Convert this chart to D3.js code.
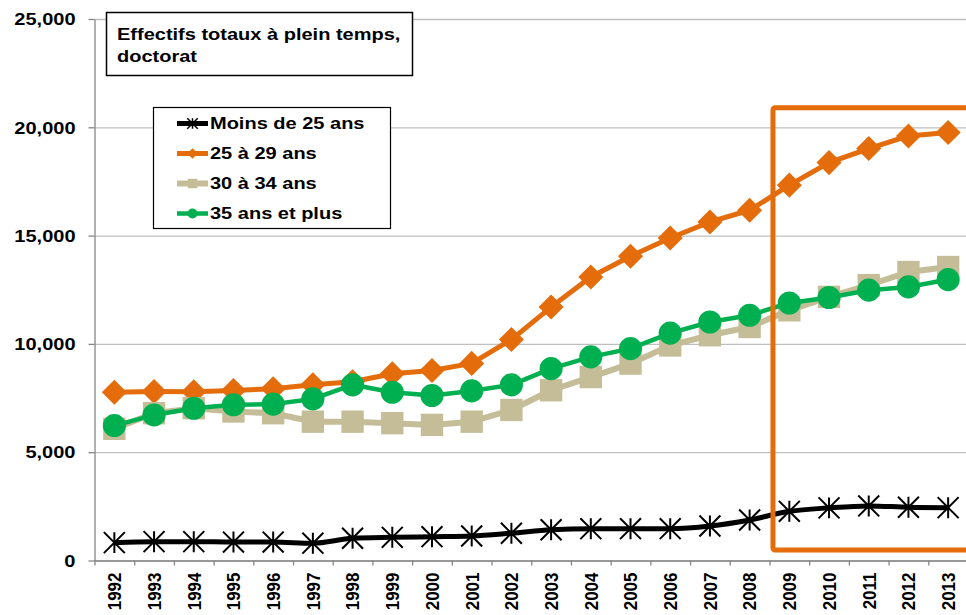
<!DOCTYPE html>
<html>
<head>
<meta charset="utf-8">
<script src="https://cdn.jsdelivr.net/npm/d3@7"></script>
<style>
  body { margin: 0; background: #fff; }
  svg { display: block; font-family: "Liberation Sans", Arial, sans-serif; font-weight: bold; }
</style>
</head>
<body>
<svg id="chart" width="966" height="615"></svg>
<script>
'use strict';

var years = ['1992','1993','1994','1995','1996','1997','1998','1999','2000','2001','2002',
             '2003','2004','2005','2006','2007','2008','2009','2010','2011','2012','2013'];
var moins25 = [825, 870, 870, 850, 850, 800, 1025, 1070, 1100, 1130, 1260,
               1420, 1470, 1470, 1470, 1590, 1870, 2270, 2430, 2520, 2460, 2440];
var de25a29 = [7770, 7800, 7790, 7850, 7930, 8110, 8250, 8620, 8770, 9100, 10200,
               11700, 13090, 14050, 14890, 15630, 16170, 17330, 18370, 19020, 19600, 19760];
var de30a34 = [6080, 6800, 7030, 6880, 6800, 6410, 6410, 6340, 6260, 6410, 6950,
               7860, 8470, 9090, 9930, 10400, 10780, 11550, 12170, 12710, 13320, 13550];
var plus35 = [6230, 6720, 7030, 7190, 7220, 7460, 8110, 7770, 7620, 7830, 8110,
              8860, 9400, 9780, 10500, 11010, 11320, 11890, 12140, 12480, 12630, 12970];
var seriesNames = ['Moins de 25 ans', '25 à 29 ans', '30 à 34 ans', '35 ans et plus'];
var yTicks = [0, 5000, 10000, 15000, 20000, 25000];
var titleLines = ['Effectifs totaux à plein temps,', 'doctorat'];
// highlighted period (2009-2013)
var zoneStart = '2009';

var sx = 1.25; // the reference text is stretched horizontally

var svg = d3.select('#chart');
var plotLeft = 94.5, plotRight = 968, plotTop = 19, plotBottom = 560.5;

var x = d3.scaleBand().domain(years).range([plotLeft, plotRight]);
var xEdge = d3.scaleLinear().domain([0, years.length]).range([plotLeft, plotRight]);
var y = d3.scaleLinear().domain([0, 25000]).range([plotBottom, plotTop]);

// custom asterisk: vertical bar + X, like the Excel marker
var asterisk = {
  draw: function(ctx, size) {
    var r = Math.sqrt(size) / 2;
    ctx.moveTo(0, -r); ctx.lineTo(0, r);
    ctx.moveTo(-r, -r); ctx.lineTo(r, r);
    ctx.moveTo(-r, r); ctx.lineTo(r, -r);
  }
};

var series = [
  {name: seriesNames[0], values: moins25, color: '#000000', width: 5, type: asterisk, size: 440, legSize: 110, stroke: true, curve: d3.curveMonotoneX},
  {name: seriesNames[1], values: de25a29, color: '#E46C0A', width: 5, type: d3.symbolDiamond2, size: 400, legSize: 70, curve: d3.curveLinear},
  {name: seriesNames[2], values: de30a34, color: '#C4BD97', width: 6, type: d3.symbolSquare, size: 500, legSize: 90, curve: d3.curveLinear},
  {name: seriesNames[3], values: plus35, color: '#00B050', width: 4.5, type: d3.symbolCircle, size: 420, legSize: 80, curve: d3.curveLinear}
];

// gridlines
svg.append('g')
    .attr('transform', 'translate(' + plotLeft + ',0)')
    .call(d3.axisLeft(y).tickValues(yTicks).tickSize(-(plotRight - plotLeft)).tickFormat(''))
    .call(function(g) {
      g.select('.domain').remove();
      g.selectAll('line').attr('stroke', '#BFBFBF').attr('stroke-width', 1.3);
    });

// y axis
var yAxis = svg.append('g')
    .attr('transform', 'translate(' + plotLeft + ',0)')
    .call(d3.axisLeft(y).tickValues(yTicks).tickSize(6).tickSizeOuter(0).tickFormat(d3.format(',')));
yAxis.select('.domain').attr('stroke', '#868686').attr('stroke-width', 1.3);
yAxis.selectAll('line').attr('stroke', '#868686').attr('stroke-width', 1.3);
yAxis.selectAll('text')
    .attr('fill', '#000')
    .style('font-size', '16px')
    .style('font-weight', 'bold')
    .attr('x', -19 / sx)
    .attr('dy', '0.36em')
    .attr('transform', 'scale(' + sx + ',1)');

// x axis: ticks between categories
var xTicks = svg.append('g')
    .attr('transform', 'translate(0,' + plotBottom + ')')
    .call(d3.axisBottom(xEdge).ticks(years.length).tickSize(5).tickSizeOuter(0).tickFormat(''));
xTicks.select('.domain').attr('stroke', '#868686').attr('stroke-width', 1.3);
xTicks.selectAll('line').attr('stroke', '#868686').attr('stroke-width', 1.3);

// x labels
var xAxis = svg.append('g')
    .attr('transform', 'translate(0,' + plotBottom + ')')
    .call(d3.axisBottom(x).tickSize(0));
xAxis.select('.domain').remove();
xAxis.selectAll('text')
    .attr('fill', '#000')
    .style('font-size', '17px')
    .style('font-weight', 'bold')
    .attr('text-anchor', 'end')
    .attr('x', -12)
    .attr('y', 0)
    .attr('dy', '0.36em')
    .attr('transform', 'rotate(-90) scale(1,' + 1.12 + ')');

// series lines and markers
series.forEach(function(s) {
  var line = d3.line()
      .x(function(d, i) { return x(years[i]) + x.bandwidth() / 2; })
      .y(function(d) { return y(d); })
      .curve(s.curve);
  svg.append('path')
      .datum(s.values)
      .attr('d', line)
      .attr('fill', 'none')
      .attr('stroke', s.color)
      .attr('stroke-width', s.width)
      .attr('stroke-linejoin', 'round');
  svg.append('g').selectAll('path')
      .data(s.values)
    .enter().append('path')
      .attr('transform', function(d, i) { return 'translate(' + (x(years[i]) + x.bandwidth() / 2) + ',' + y(d) + ')'; })
      .attr('d', d3.symbol().type(s.type).size(s.size))
      .attr('fill', s.stroke ? 'none' : s.color)
      .attr('stroke', s.stroke ? s.color : 'none')
      .attr('stroke-width', 2);
});

// highlight frame 2009-2013
svg.append('rect')
    .attr('x', x(zoneStart) + 3.5)
    .attr('y', y(20900))
    .attr('width', 300)
    .attr('height', y(480) - y(20900))
    .attr('rx', 2)
    .attr('fill', 'none')
    .attr('stroke', '#E46C0A')
    .attr('stroke-width', 5);

// title box
var title = svg.append('g');
title.append('rect')
    .attr('x', 106.5).attr('y', 12.5)
    .attr('width', 306).attr('height', 63)
    .attr('fill', '#fff').attr('stroke', '#000').attr('stroke-width', 1.5);
title.selectAll('text')
    .data(titleLines)
  .enter().append('text')
    .attr('transform', function(d, i) { return 'translate(117,' + (40 + i * 21.5) + ') scale(' + sx + ',1)'; })
    .style('font-size', '16px')
    .text(function(d) { return d; });

// legend
var legend = svg.append('g');
legend.append('rect')
    .attr('x', 153.5).attr('y', 107.5)
    .attr('width', 237).attr('height', 121)
    .attr('fill', '#fff').attr('stroke', '#000').attr('stroke-width', 1.2);
var item = legend.selectAll('g.item')
    .data(series)
  .enter().append('g')
    .attr('class', 'item')
    .attr('transform', function(d, i) { return 'translate(0,' + (123.5 + i * 30) + ')'; });
item.append('line')
    .attr('x1', 177).attr('x2', 208)
    .attr('stroke', function(d) { return d.color; })
    .attr('stroke-width', function(d) { return d.width; });
item.append('path')
    .attr('transform', 'translate(192.5,0)')
    .attr('d', function(d) { return d3.symbol().type(d.type).size(d.legSize)(); })
    .attr('fill', function(d) { return d.stroke ? 'none' : d.color; })
    .attr('stroke', function(d) { return d.stroke ? d.color : 'none'; })
    .attr('stroke-width', 1.5);
item.append('text')
    .attr('transform', 'translate(210,0) scale(' + sx + ',1)')
    .attr('dy', '0.36em')
    .style('font-size', '16px')
    .text(function(d) { return d.name; });
</script>
</body>
</html>
